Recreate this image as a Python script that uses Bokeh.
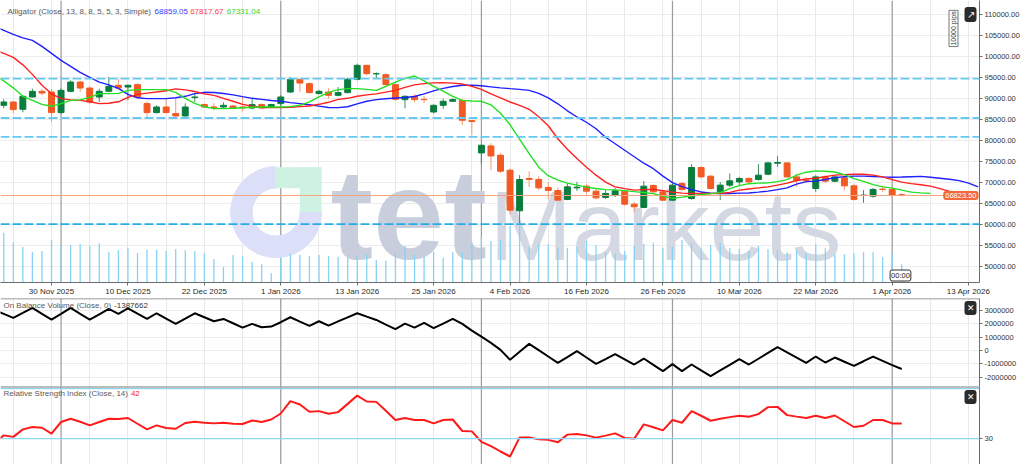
import math
from bokeh.plotting import figure
from bokeh.models import (Range1d, FixedTicker, Span, Label, ColumnDataSource, PrintfTickFormatter,
                          GlobalInlineStyleSheet)
from bokeh.layouts import column
from bokeh.embed import file_html
from bokeh.resources import INLINE
from bokeh.core.properties import value

# ---------------- data (daily bars, index 0..94) ----------------
opens = [88330, 89120, 87380, 90310, 91670, 91500, 86600, 91670, 93880, 92450,
         90310, 91670, 93100, 92690, 93260, 88740, 86600, 87930, 86360, 85790,
         90170, 88500, 87930, 87930, 88170, 87930, 87690, 88500, 87930, 88740,
         91500, 94520, 93500, 91120, 91500, 90710, 91360, 94520, 97860, 95830,
         95640, 93260, 89690, 90480, 89760, 86740, 88330, 89290, 89520, 84690,
         76980, 78640, 76430, 72860, 63170, 70880, 70640, 68740, 68020, 65880,
         68640, 69050, 67860, 66360, 66900, 67860, 64760, 63980, 69210, 67690,
         65710, 69690, 66120, 73500, 71430, 67690, 69290, 70070, 70880, 70640,
         71900, 74520, 74600, 71260, 70480, 68500, 71260, 70240, 71020, 69120,
         66830, 66670, 68330, 68260, 67020]
highs = [89760, 89400, 90710, 92310, 92260, 92140, 92380, 94290, 94170, 92930,
         92310, 95070, 94690, 93330, 93640, 89290, 88330, 89930, 89930, 88810,
         91190, 88810, 88810, 89050, 88450, 90310, 89930, 88810, 88690, 90710,
         95070, 94640, 93810, 92020, 92380, 92690, 94880, 98260, 97980, 96190,
         95950, 93810, 90710, 90950, 90550, 88570, 89930, 90000, 89760, 84880,
         78930, 79290, 76900, 73260, 71670, 72620, 71430, 70000, 68740, 69690,
         70070, 69520, 68330, 68100, 68570, 68100, 65240, 70240, 69520, 67980,
         69690, 70000, 74290, 73810, 71670, 70000, 72070, 71190, 71190, 74290,
         74880, 76190, 74760, 72070, 71190, 71670, 71670, 71550, 71260, 69520,
         68100, 68570, 69050, 68570, 67380]
lows = [87620, 86430, 86670, 90240, 90710, 84360, 86190, 91430, 91500, 88570,
        89120, 91430, 92140, 89520, 90000, 85550, 86360, 86360, 85600, 85600,
        89120, 87740, 87140, 87620, 87500, 86900, 87380, 87500, 87620, 88100,
        91310, 91500, 91190, 90950, 89930, 90480, 91190, 94290, 95480, 94760,
        93100, 89400, 87620, 89050, 88880, 86360, 87500, 89170, 83570, 81190,
        74450, 72860, 72260, 62310, 60240, 68810, 68100, 65950, 65480, 65710,
        67930, 67140, 65880, 65950, 66430, 64400, 62930, 63810, 67500, 65480,
        65480, 67980, 65830, 70880, 68260, 65710, 68810, 69290, 69520, 70360,
        71670, 73650, 71070, 68880, 69880, 67690, 69760, 70000, 68100, 65600,
        65070, 66310, 67690, 66310, 66550]
closes = [89120, 87310, 90480, 91670, 91260, 86600, 91900, 93880, 92450, 89120,
          91670, 92860, 92450, 93100, 90310, 86600, 87930, 86600, 85790, 87930,
          90310, 87930, 87860, 88330, 87690, 87700, 88500, 87690, 88500, 90310,
          94520, 93640, 91360, 91670, 90710, 91360, 94520, 97860, 95880, 95880,
          93260, 89760, 90480, 89690, 89690, 88330, 89290, 89690, 84760, 84450,
          78810, 76260, 72620, 63330, 70640, 70640, 68640, 68020, 65710, 68880,
          68810, 67860, 66260, 67310, 67930, 64760, 64120, 69050, 67690, 65710,
          69290, 68260, 73500, 71260, 68500, 69290, 70310, 70880, 70070, 71670,
          74600, 74690, 71260, 70480, 70400, 71260, 70240, 71260, 69120, 65880,
          66900, 68260, 68260, 66900, 66823.5]
volumes = [4980, 4020, 3550, 3050, 3150, 4250, 3750, 3750, 3850, 3680,
           3920, 3020, 3250, 3480, 2950, 3280, 3280, 3150, 3350, 3220,
           3120, 2920, 2350, 1550, 2750, 2620, 2080, 1820, 950, 2480,
           2880, 2750, 2650, 2750, 2650, 2580, 2480, 2750, 2820, 2250,
           2180, 2980, 3650, 2750, 2580, 3050, 2480, 3050, 3020, 3980,
           4580, 4150, 4250, 5650, 5650, 3580, 3820, 3820, 3480, 3480,
           3580, 4150, 3750, 3020, 2920, 3150, 3680, 3850, 3980, 3480,
           3580, 4250, 3920, 3480, 3750, 3920, 3480, 3350, 3150, 3650,
           3350, 3250, 3020, 3250, 2920, 3820, 3420, 2850, 2820, 2920,
           3020, 3020, 2550, 2850, 1820]

# Alligator lines (first value belongs to bar -1; lines run past the last bar by their shift)
jaw = [107260, 106190, 105240, 104400, 103810, 102380, 100710, 99050, 97620, 96190,
       95000, 93880, 93210, 92380, 90950, 90120, 89930, 89930, 89930, 90120,
       90480, 91120, 91430, 91380, 91140, 90830, 90400, 90000, 89760, 89480,
       89290, 88980, 88740, 88450, 88140, 87810, 87790, 87980, 88690, 89290,
       89690, 89880, 90070, 90190, 90430, 91070, 91790, 92380, 92810, 93100,
       93100, 92980, 92740, 92500, 92310, 92140, 91900, 91190, 90120, 88690,
       87020, 85550, 84290, 82740, 80710, 79170, 77620, 76070, 74520, 73210,
       71430, 69880, 68930, 68210, 67670, 67380, 67310, 67310, 67380, 67430,
       67620, 67860, 68210, 68640, 69520, 70120, 70240, 70640, 71070, 71310,
       71430, 71430, 71360, 71260, 71190, 71240, 71310, 71380, 71190, 70950,
       70710, 70360, 69760, 68859.05]
teeth = [101550, 100710, 99760, 97980, 95710, 93100, 91070, 89930, 89640, 89520,
         89170, 88740, 88810, 89170, 90240, 90950, 91240, 91500, 91790, 92260,
         92020, 91620, 91070, 90710, 90000, 89290, 88570, 88100, 87790, 87790,
         87790, 87860, 88020, 88170, 88570, 89050, 89760, 90000, 90480, 90830,
         91070, 91480, 91900, 92620, 93210, 93500, 93690, 93740, 93620, 93400,
         92860, 92140, 91070, 90120, 89120, 88330, 87380, 85600, 83450, 80360,
         77860, 75640, 73570, 71670, 70000, 68880, 68450, 68100, 68210, 68260,
         67980, 67620, 67380, 67310, 67310, 67310, 67330, 67550, 68100, 68380,
         68640, 68880, 69290, 69760, 70400, 70760, 70950, 71310, 71670, 71790,
         71900, 71900, 71670, 71260, 70600, 70000, 69640, 69400, 69050, 68450,
         67817.67]
lips = [95480, 94170, 92500, 90480, 89520, 88570, 88100, 88740, 89520, 89640,
        90240, 91120, 91120, 91190, 91900, 92070, 92070, 92070, 92070, 91430,
        90000, 88810, 87980, 87550, 87550, 87620, 87740, 87860, 87930, 87930,
        87930, 88020, 88330, 89170, 90360, 91430, 92070, 92310, 92310, 92140,
        91900, 92860, 93880, 94760, 95310, 94170, 92860, 91710, 90480, 89520,
        89360, 89290, 88450, 86430, 83690, 80240, 76790, 73570, 71550, 70480,
        69760, 69290, 68810, 68500, 68210, 68170, 67980, 67740, 67550, 67260,
        66670, 66120, 66430, 66710, 67070, 67260, 67500, 68450, 69170, 69640,
        69760, 69830, 70120, 70600, 71670, 72380, 72690, 72620, 72430, 71790,
        70830, 70190, 69400, 68880, 68570, 68100, 67620, 67450, 67331.04]

obv = [3050000, 2750000, 2450000, 2824000, 3198500, 2749000, 2322000, 2749000, 3198500, 2749000,
       2322000, 2726600, 3123600, 2749000, 3176000, 2771500, 2374500, 2801500, 2397000, 2000000,
       2397000, 2801500, 2502000, 2202200, 2374500, 2052400, 1722800, 2000000, 1752800, 1797700,
       2127300, 2502000, 2172300, 1850200, 2202200, 1872700, 2187300, 2494400, 2801500, 2546800,
       2299600, 1947600, 1603000, 2022500, 1722800, 2074900, 1677900, 2022500, 2374500, 2000000,
       1498100, 1048700, 576800, 52400, -696600, -97400, 501900, 30000, -449400, -921300,
       -486900, -44900, -524300, -996200, -636700, -269700, -659200, -1048700, -599200, -1071200,
       -1543100, -1018700, -1543100, -1048700, -1483100, -1917600, -1490600, -1071200, -644200, -1048700,
       -614200, -179800, 254700, -134800, -531800, -921300, -449400, -898900, -524300, -838900,
       -1146100, -801500, -449400, -771500, -1093600, -1387662]
rsi = [26.8, 32.6, 31.4, 37.4, 39.3, 38.7, 34.0, 43.3, 45.9, 43.5,
       40.6, 43.3, 45.9, 45.7, 46.5, 41.9, 37.4, 40.6, 38.5, 37.9,
       42.5, 43.5, 42.7, 42.2, 42.7, 41.9, 41.7, 44.5, 43.3, 45.3,
       50.1, 60.0, 57.3, 51.5, 52.0, 49.9, 51.2, 57.8, 64.4, 59.7,
       59.4, 52.3, 44.9, 46.5, 44.9, 44.9, 42.2, 44.9, 45.3, 36.1,
       35.8, 27.4, 24.0, 19.7, 15.7, 31.0, 31.0, 29.4, 29.0, 27.1,
       33.2, 33.7, 32.6, 30.8, 32.4, 34.2, 30.6, 30.0, 41.4, 39.1,
       36.6, 44.9, 42.7, 52.0, 48.3, 44.3, 45.9, 47.2, 48.3, 47.5,
       49.6, 55.2, 55.4, 48.8, 47.6, 46.5, 48.3, 46.5, 48.5, 43.9,
       39.3, 40.3, 44.9, 44.9, 42.2, 42.2]

date_tick_bars = [5, 13, 21, 29, 37, 45, 53, 61, 69, 77, 85, 93, 101]
date_tick_labels = ["30 Nov 2025", "10 Dec 2025", "22 Dec 2025", "1 Jan 2026", "13 Jan 2026",
                    "25 Jan 2026", "4 Feb 2026", "16 Feb 2026", "26 Feb 2026", "10 Mar 2026",
                    "22 Mar 2026", "1 Apr 2026", "13 Apr 2026"]
month_start_bars = [6, 29, 50, 70, 93]
grid_bars = list(range(1, 103, 4))
price_ticks = list(range(50000, 110001, 5000))
obv_ticks = [-2000000, -1000000, 0, 1000000, 2000000, 3000000]
rsi_levels = [30, 70]
level_lines = [94700, 85300, 80800, 60000]
last_price = 66823.50
alligator_last = ["68859.05", "67817.67", "67331.04"]
obv_last = "-1387662"
rsi_last = "42"

# ---------------- styling ----------------
FONT = "Liberation Sans"
FW = 979
RB = 45
X0, X1 = -0.34, 102.14
P0, P1 = 46070, 113330
O0, O1 = -2700000, 3910000
R0, R1 = 7.7, 71.7
GREEN = "#0a7d3e"
ORANGE = "#f25a24"
VOLC = "#86d3f3"
AXC = "#6b6b6b"

xr = Range1d(X0, X1)


def px2x(px):
    return X0 + px / 991.0 * (X1 - X0)


def py2p(py):
    return P1 - py / 282.5 * (P1 - P0)


def py2o(py):
    return O1 - (py - 294.5) / 88.2 * (O1 - O0)


def py2r(py):
    return R1 - (py - 383.5) / 80.5 * (R1 - R0)


def make_fig(fh, y0, y1, xaxis):
    p = figure(frame_width=FW, frame_height=fh, x_range=xr, y_range=Range1d(y0, y1),
               output_backend="svg", toolbar_location=None,
               x_axis_location="below" if xaxis else None, y_axis_location="right",
               min_border_left=0, min_border_right=RB, min_border_top=0, min_border_bottom=0)
    p.outline_line_color = None
    p.background_fill_color = "white"
    p.border_fill_color = "white"
    p.xgrid.ticker = FixedTicker(ticks=grid_bars)
    p.xgrid.grid_line_color = "#e9e9e9"
    return p


def style_yaxis(p, ticks, fmt):
    ax = p.yaxis[0]
    ax.ticker = FixedTicker(ticks=ticks)
    ax.formatter = PrintfTickFormatter(format=fmt)
    ax.major_tick_out = 3
    ax.major_tick_in = 0
    ax.minor_tick_out = 0
    ax.minor_tick_in = 0
    ax.axis_line_color = AXC
    ax.major_tick_line_color = AXC
    ax.major_label_standoff = 2
    ax.major_label_text_font = FONT
    ax.major_label_text_font_size = "7.5px"
    ax.major_label_text_color = "#333333"


def lab(p, x, y, text, size="8px", color="#5a5a5a", align="left", baseline="middle", **kw):
    l = Label(x=x, y=y, text=text, text_font=FONT, text_font_size=size, text_color=color,
              text_align=align, text_baseline=baseline, **kw)
    p.add_layout(l)
    return l


def month_lines(p):
    for b in month_start_bars:
        p.add_layout(Span(location=b, dimension="height", line_color="#9b9b9b",
                          line_width=1.2, level="underlay"))


def close_button(p, y):
    lab(p, FW - 9, y, "\u2715", size="9px", color="white", align="center", x_units="screen",
        background_fill_color="#2b2b2b", border_radius=3, padding=2)


# ================= main price panel =================
p = make_fig(282, P0, P1, True)
style_yaxis(p, price_ticks, "%.2f")
p.ygrid.ticker = FixedTicker(ticks=price_ticks)
p.ygrid.grid_line_color = "#ececec"
month_lines(p)

xa = p.xaxis[0]
xa.ticker = FixedTicker(ticks=date_tick_bars)
xa.major_label_overrides = {b: s for b, s in zip(date_tick_bars, date_tick_labels)}
xa.major_label_text_font = FONT
xa.major_label_text_font_size = "8px"
xa.major_label_text_color = "#2a2a2a"
xa.major_tick_out = 3
xa.major_tick_in = 0
xa.minor_tick_out = 0
xa.minor_tick_in = 0
xa.axis_line_color = AXC
xa.major_tick_line_color = AXC
xa.major_label_standoff = 1

# watermark logo
cx, cy = px2x(279), py2p(212)
p.annular_wedge(x=[cx], y=[cy], inner_radius=24, outer_radius=45.5,
                inner_radius_units="screen", outer_radius_units="screen",
                start_angle=math.pi / 2, end_angle=2 * math.pi, color="#dcdff8")
p.quad(left=[px2x(278), px2x(303)], right=[px2x(325), px2x(325)],
       top=[py2p(167), py2p(167)], bottom=[py2p(188), py2p(212)], color="#cdf2e2", line_color=None)
p.text(x=[px2x(334)], y=[py2p(214)], text=["tet"], text_font=value(FONT), text_font_style="bold",
       text_font_size="128px", text_color="#c8cedb", text_baseline="middle")
p.text(x=[px2x(495)], y=[py2p(225)], text=["Markets"], text_font=value(FONT),
       text_font_size="99px", text_color="#d3d8e3", text_baseline="middle")

# volume
p.extra_y_ranges = {"vol": Range1d(0, 28250)}
idx = list(range(len(closes)))
up = [c >= o for o, c in zip(opens, closes)]
src = ColumnDataSource(dict(
    x=idx, h=highs, l=lows,
    top=[max(o, c) for o, c in zip(opens, closes)],
    bot=[min(o, c) for o, c in zip(opens, closes)],
    col=[GREEN if u else ORANGE for u in up],
    wcol=["#3f8f5e" if u else "#f39a74" for u in up],
    vol=volumes, zero=[0] * len(idx)))
p.segment(x0="x", y0="zero", x1="x", y1="vol", source=src, y_range_name="vol",
          line_color=VOLC, line_width=1.3)

for lv in level_lines:
    p.add_layout(Span(location=lv, dimension="width", line_color="#23aee9" if lv == 60000 else "#66c9f2",
                      line_width=1.8, line_dash="9 3"))
p.add_layout(Span(location=last_price, dimension="width", line_color="#f4a482", line_width=1))

# candles
p.segment(x0="x", y0="l", x1="x", y1="h", source=src, line_color="wcol", line_width=1)
p.vbar(x="x", width=0.62, top="top", bottom="bot", source=src, fill_color="col", line_color="col",
       line_width=1)

# alligator
p.line(x=list(range(-1, -1 + len(jaw))), y=jaw, line_color="#1f1fff", line_width=1.4)
p.line(x=list(range(-1, -1 + len(teeth))), y=teeth, line_color="#ff1f1f", line_width=1.4)
p.line(x=list(range(-1, -1 + len(lips))), y=lips, line_color="#22e022", line_width=1.4)

# texts
lab(p, px2x(7), py2p(11), "Alligator (Close, 13, 8, 8, 5, 5, 3, Simple)")
lab(p, px2x(156), py2p(11), alligator_last[0], color="#3b3bff")
lab(p, px2x(192), py2p(11), alligator_last[1], color="#ff3b3b")
lab(p, px2x(229), py2p(11), alligator_last[2], color="#33d633")
lab(p, FW - 1, last_price, "66823.50", size="7.5px", color="white", x_units="screen", align="right",
    background_fill_color="#f26a3a", border_radius=3, padding=2)
lab(p, FW - 26, py2p(28), "10000 pips", size="7px", color="#333333", align="center", x_units="screen",
    angle=math.pi / 2, border_line_color="#777777", padding=1)
lab(p, FW - 9, py2p(14), "\u2197", size="10px", color="white", align="center", x_units="screen",
    background_fill_color="#2b2b2b", border_radius=3, padding=2)
lab(p, px2x(911), 7, "00:00", size="7.5px", color="#222222", align="center", y_units="screen",
    background_fill_color="white", border_line_color="#333333", border_radius=2, padding=1)

# ================= OBV panel =================
po = make_fig(88, O0, O1, False)
style_yaxis(po, obv_ticks, "%d")
po.ygrid.ticker = FixedTicker(ticks=obv_ticks)
po.ygrid.grid_line_color = "#ececec"
month_lines(po)
po.add_layout(Span(location=O1, dimension="width", line_color="#7a7a7a", line_width=1.5))
po.line(x=list(range(-1, -1 + len(obv))), y=obv, line_color="black", line_width=2)
lab(po, px2x(3), py2o(302), "On Balance Volume (Close, 0)")
lab(po, px2x(115), py2o(302), obv_last, color="#333333")
close_button(po, py2o(304))

# ================= RSI panel =================
pr = make_fig(80, R0, R1, False)
style_yaxis(pr, [30], "%d")
pr.ygrid.grid_line_color = None
month_lines(pr)
pr.add_layout(Span(location=R1, dimension="width", line_color="#7a7a7a", line_width=2))
for lv in rsi_levels:
    pr.add_layout(Span(location=lv, dimension="width", line_color="#8fd8f5", line_width=1.2))
pr.line(x=list(range(-1, -1 + len(rsi))), y=rsi, line_color="#ff1a1a", line_width=2)
lab(pr, px2x(3), py2r(391), "Relative Strength Index (Close, 14)")
lab(pr, px2x(132), py2r(391), rsi_last, color="#ff2020")
close_button(pr, py2r(394))

css = GlobalInlineStyleSheet(css="html, body { margin: 0 !important; padding: 0; overflow: hidden; }")
layout = column(p, po, pr, spacing=0, stylesheets=[css])
open("out.html", "w").write(file_html(layout, INLINE))
